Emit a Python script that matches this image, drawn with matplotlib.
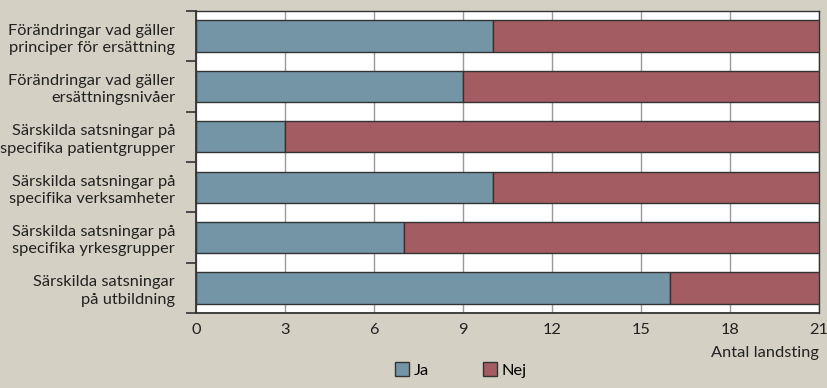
import matplotlib.pyplot as plt
import numpy as np

categories = [
    "Förändringar vad gäller\nprinciper för ersättning",
    "Förändringar vad gäller\nersättningsnivåer",
    "Särskilda satsningar på\nspecifika patientgrupper",
    "Särskilda satsningar på\nspecifika verksamheter",
    "Särskilda satsningar på\nspecifika yrkesgrupper",
    "Särskilda satsningar\npå utbildning",
]
ja = [10, 9, 3, 10, 7, 16]
nej = [11, 12, 18, 11, 14, 5]
xticks = [0, 3, 6, 9, 12, 15, 18, 21]

BG = "#d4d0c4"
BLUE = "#7395a6"
RED = "#a35c62"
EDGE = "#333333"
TXT = "#222222"
FS = 11.8

plt.rcParams["font.family"] = ["Lato", "DejaVu Sans"]

fig = plt.figure(figsize=(8.27, 3.88), dpi=100, facecolor=BG)
ax = fig.add_axes([0.237, 0.193, 0.753, 0.779])
ax.set_facecolor("white")

y = np.arange(len(categories))
ax.barh(y, ja, height=0.62, color=BLUE, edgecolor=EDGE, linewidth=1.0,
        label="Ja", zorder=3)
ax.barh(y, nej, left=ja, height=0.62, color=RED, edgecolor=EDGE,
        linewidth=1.0, label="Nej", zorder=3)

ax.set_xlim(0, 21)
ax.set_ylim(len(categories) - 0.5, -0.5)
ax.set_xticks(xticks)
ax.set_xticklabels([str(t) for t in xticks], fontsize=FS, color=TXT)
ax.tick_params(axis="x", length=0, pad=7)
ax.grid(axis="x", color="#999999", linewidth=1.0, zorder=0)

ax.set_yticks(y)
ax.set_yticklabels(categories, fontsize=FS, color=TXT, linespacing=1.3)
ax.tick_params(axis="y", which="major", length=0, pad=15)
ax.set_yticks(np.arange(-0.5, len(categories)), minor=True)
ax.tick_params(axis="y", which="minor", length=7, width=1.2, color=EDGE,
               direction="out")

for side in ["left", "bottom", "right", "top"]:
    ax.spines[side].set_color(EDGE)
ax.spines["left"].set_linewidth(1.3)
ax.spines["bottom"].set_linewidth(1.3)
ax.spines["right"].set_linewidth(1.0)
ax.spines["top"].set_linewidth(1.0)

ax.set_xlabel("Antal landsting", fontsize=FS, color=TXT)
ax.xaxis.set_label_coords(1.0, -0.11)
ax.xaxis.label.set_horizontalalignment("right")

fig.legend(loc="lower center", bbox_to_anchor=(0.557, 0.005), ncol=2,
           frameon=False, fontsize=FS, handlelength=0.9, handleheight=0.9,
           handletextpad=0.25, columnspacing=3.3, borderpad=0)

fig.savefig("out.png", dpi=100, facecolor=BG)
